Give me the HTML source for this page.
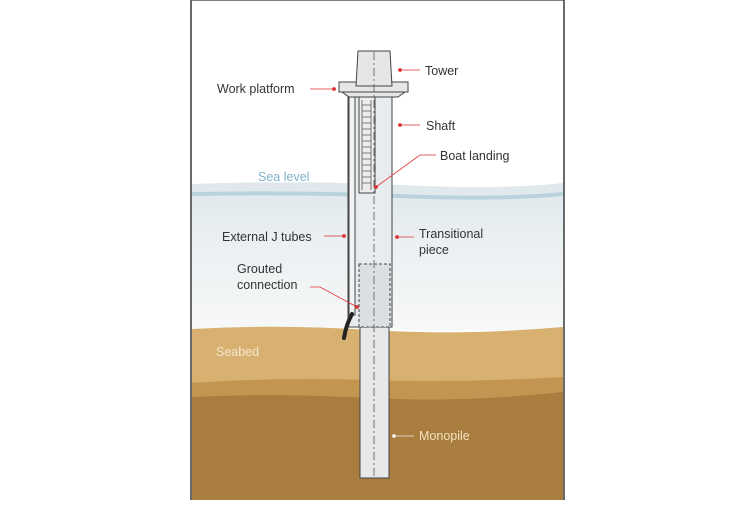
<!DOCTYPE html>
<html><head><style>
body{margin:0;width:750px;height:500px;background:#fff;overflow:hidden}
svg text{font-family:"Liberation Sans",sans-serif;font-size:12.5px;fill:#333}
</style></head><body>
<svg width="750" height="500" viewBox="0 0 750 500">
<defs>
<linearGradient id="w" x1="0" y1="0" x2="0" y2="1">
<stop offset="0" stop-color="#dfe8ec"/><stop offset="0.5" stop-color="#edf1f3"/><stop offset="1" stop-color="#f7f8f8"/>
</linearGradient>
</defs>
<rect x="191" y="0" width="373" height="500" fill="#fff" stroke="#555" stroke-width="1.5"/>
<!-- water -->
<path d="M192 184 Q300 180 400 185 T563 183 L563 330 L192 330Z" fill="url(#w)"/>
<path d="M192 194 Q300 192 400 196 T563 194" stroke="#b9d3dd" stroke-width="4" fill="none"/>
<!-- seabed -->
<path d="M192 329 Q280 324 370 330 T563 327 L563 500 L192 500Z" fill="#d8b070"/>
<path d="M192 383 Q280 377 370 380 T563 377 L563 500 L192 500Z" fill="#c29650"/>
<path d="M192 397 Q280 393 370 398 T563 392 L563 500 L192 500Z" fill="#a87d3e"/>
<line x1="191" y1="0" x2="191" y2="500" stroke="#555" stroke-width="1.5"/>
<line x1="564" y1="0" x2="564" y2="500" stroke="#555" stroke-width="1.5"/>
<g stroke="#444" stroke-width="1">
<!-- monopile -->
<rect x="360" y="327" width="29" height="151" fill="#e6e8ea"/>
<!-- shaft / TP -->
<rect x="348" y="97" width="44" height="230" fill="#e9ecee"/>
<rect x="349" y="97" width="6" height="218" fill="#f2f3f4"/>
<rect x="359" y="97" width="16" height="96" fill="#ececec"/>
<rect x="359" y="264" width="31" height="63" fill="#dcdfe2" stroke-dasharray="3,2"/>
<!-- platform -->
<rect x="339" y="82" width="69" height="10" fill="#e4e6e8"/>
<path d="M342 92 H405 L398 97 H349Z" fill="#e4e6e8"/>
<!-- tower -->
<path d="M358 51 H390 L392 86 H356Z" fill="#e4e6e8"/>
</g>
<g stroke="#555" stroke-width="0.8">
<path d="M362 100 V190 M371 100 V190"/>
<path d="M362 105 H371 M362 111 H371 M362 117 H371 M362 123 H371 M362 129 H371 M362 135 H371 M362 141 H371 M362 147 H371 M362 153 H371 M362 159 H371 M362 165 H371 M362 171 H371 M362 177 H371 M362 183 H371"/>
</g>
<line x1="374" y1="52" x2="374" y2="478" stroke="#555" stroke-dasharray="8,3,2,3" stroke-width="0.8"/>
<path d="M352 314 Q346 325 344 338" stroke="#222" stroke-width="4" fill="none" stroke-linecap="round"/>
<!-- leaders -->
<g stroke="#d33" stroke-width="0.8" fill="#d33">
<line x1="400" y1="70" x2="420" y2="70"/><circle cx="400" cy="70" r="1.5"/>
<line x1="310" y1="89" x2="334" y2="89"/><circle cx="334" cy="89" r="1.5"/>
<line x1="400" y1="125" x2="420" y2="125"/><circle cx="400" cy="125" r="1.5"/>
<polyline points="376,187 420,155 436,155" fill="none"/><circle cx="376" cy="187" r="1.5"/>
<line x1="324" y1="236" x2="344" y2="236"/><circle cx="344" cy="236" r="1.5"/>
<line x1="397" y1="237" x2="414" y2="237"/><circle cx="397" cy="237" r="1.5"/>
<polyline points="310,287 320,287 357,307" fill="none"/><circle cx="357" cy="307" r="1.5"/>
</g>
<g stroke="#eee" stroke-width="0.8" fill="#eee">
<line x1="394" y1="436" x2="414" y2="436"/><circle cx="394" cy="436" r="1.5"/>
</g>
<text x="425" y="75">Tower</text>
<text x="217" y="93">Work platform</text>
<text x="426" y="130">Shaft</text>
<text x="440" y="160">Boat landing</text>
<text x="258" y="181" style="fill:#7fb3c8">Sea level</text>
<text x="222" y="241">External J tubes</text>
<text x="419" y="238">Transitional</text>
<text x="419" y="254">piece</text>
<text x="237" y="273">Grouted</text>
<text x="237" y="289">connection</text>
<text x="216" y="356" style="fill:#f3e6cc">Seabed</text>
<text x="419" y="440" style="fill:#f3e2c0">Monopile</text>
</svg>
</body></html>
